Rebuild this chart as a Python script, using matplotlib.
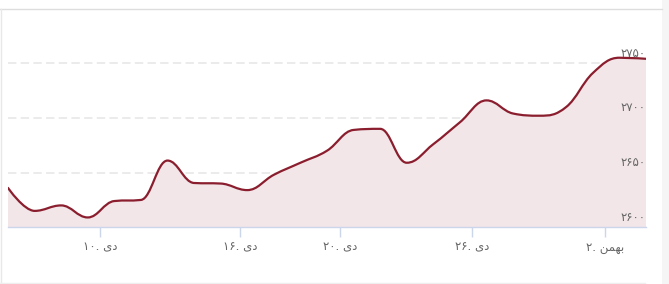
import numpy as np
import matplotlib
matplotlib.use("Agg")
from matplotlib import pyplot as plt
from matplotlib.path import Path
from matplotlib.patches import PathPatch, Rectangle
from matplotlib.lines import Line2D

plt.rcParams['font.family'] = ['DejaVu Sans']

# price per trading day (index 0..24)
prices = [2636, 2615, 2620, 2609, 2624, 2625, 2661, 2640.5, 2640, 2634,
          2648, 2659, 2670, 2689, 2690, 2659, 2676, 2696, 2716, 2704,
          2702, 2710, 2741, 2755, 2754]
days = np.arange(len(prices))

# x tick positions (in day index units) and their labels, shaped for LTR drawing
dey = "\uFBFC\uFEA9"                       # دی
bahman = "\uFEE6\uFEE4\uFEEC\uFE91"        # بهمن
tick_pos = [3.46, 8.73, 12.49, 17.46, 22.46]
tick_labels = ["۱۰. " + dey, "۱۶. " + dey, "۲۰. " + dey, "۲۶. " + dey, "۲. " + bahman]

y_ticks = [2600, 2650, 2700, 2750]
y_labels = ["۲۶۰۰", "۲۶۵۰", "۲۷۰۰", "۲۷۵۰"]

line_color = "#8b1e2e"
fill_color = "#f2e6e8"


def spline_path(xs, ys, smoothing=1.5):
    # same control point rule as a highcharts "spline" series
    n = len(xs)
    left = [(xs[i], ys[i]) for i in range(n)]
    right = [(xs[i], ys[i]) for i in range(n)]
    denom = smoothing + 1
    for i in range(1, n - 1):
        px, py = xs[i], ys[i]
        lx, ly = xs[i - 1], ys[i - 1]
        nx, ny = xs[i + 1], ys[i + 1]
        lcx = (smoothing * px + lx) / denom
        lcy = (smoothing * py + ly) / denom
        rcx = (smoothing * px + nx) / denom
        rcy = (smoothing * py + ny) / denom
        if rcx != lcx:
            corr = (rcy - lcy) * (rcx - px) / (rcx - lcx) + py - rcy
            lcy += corr
            rcy += corr
        if lcy > ly and lcy > py:
            lcy = max(ly, py)
            rcy = 2 * py - lcy
        elif lcy < ly and lcy < py:
            lcy = min(ly, py)
            rcy = 2 * py - lcy
        if rcy > ny and rcy > py:
            rcy = max(ny, py)
            lcy = 2 * py - rcy
        elif rcy < ny and rcy < py:
            rcy = min(ny, py)
            lcy = 2 * py - rcy
        left[i] = (lcx, lcy)
        right[i] = (rcx, rcy)
    verts = [(xs[0], ys[0])]
    codes = [Path.MOVETO]
    for i in range(1, n):
        verts += [right[i - 1], left[i], (xs[i], ys[i])]
        codes += [Path.CURVE4] * 3
    return verts, codes


fig = plt.figure(figsize=(6.69, 2.84), dpi=100)
W, H = 669.0, 284.0
ax = fig.add_axes([8 / W, (H - 227.3) / H, 638 / W, 207.3 / H])
ax.set_xlim(0, len(prices) - 1)
ax.set_ylim(2600, 2600 + 207.3 / 1.094)

verts, codes = spline_path(list(days), prices)
fill_verts = verts + [(days[-1], 2600), (days[0], 2600), verts[0]]
fill_codes = codes + [Path.LINETO, Path.LINETO, Path.CLOSEPOLY]
ax.add_patch(PathPatch(Path(fill_verts, fill_codes), facecolor=fill_color,
                       edgecolor="none", zorder=1))
ax.add_patch(PathPatch(Path(verts, codes), facecolor="none", edgecolor=line_color,
                       lw=1.6, zorder=3, capstyle="round", joinstyle="round"))

# dashed grid lines
for v in y_ticks[1:]:
    ax.axhline(v, color="#e6e6e6", lw=1.1, dashes=(5.5, 2.8), zorder=0)

for v, lab in zip(y_ticks, y_labels):
    ax.annotate(lab, xy=(1.0, v), xycoords=("axes fraction", "data"),
                xytext=(0, 2.5), textcoords="offset points",
                ha="right", va="bottom", fontsize=8.5, color="#666666", zorder=4)

for s in ["top", "right", "left"]:
    ax.spines[s].set_visible(False)
ax.spines["bottom"].set_color("#ccd6eb")
ax.spines["bottom"].set_linewidth(1)
ax.set_yticks([])
ax.set_xticks(tick_pos)
ax.set_xticklabels(tick_labels, fontsize=8.5, color="#666666")
ax.tick_params(axis="x", length=7.2, width=1, color="#ccd6eb", pad=2.5)

# page frame around the chart
fig.add_artist(Rectangle((662 / W, 0), 7 / W, 1, transform=fig.transFigure,
                         facecolor="#f5f5f5", edgecolor="none"))
fig.add_artist(Line2D([0, 662 / W], [1 - 8.5 / H, 1 - 8.5 / H], transform=fig.transFigure,
                      color="#dddddd", lw=1))
fig.add_artist(Line2D([0.5 / W, 0.5 / W], [0, 1 - 8.5 / H], transform=fig.transFigure,
                      color="#e8e8e8", lw=1))
fig.add_artist(Line2D([0, 645 / W], [1 - 283 / H, 1 - 283 / H], transform=fig.transFigure,
                      color="#eeeeee", lw=1))

fig.savefig("out.png", dpi=100)
